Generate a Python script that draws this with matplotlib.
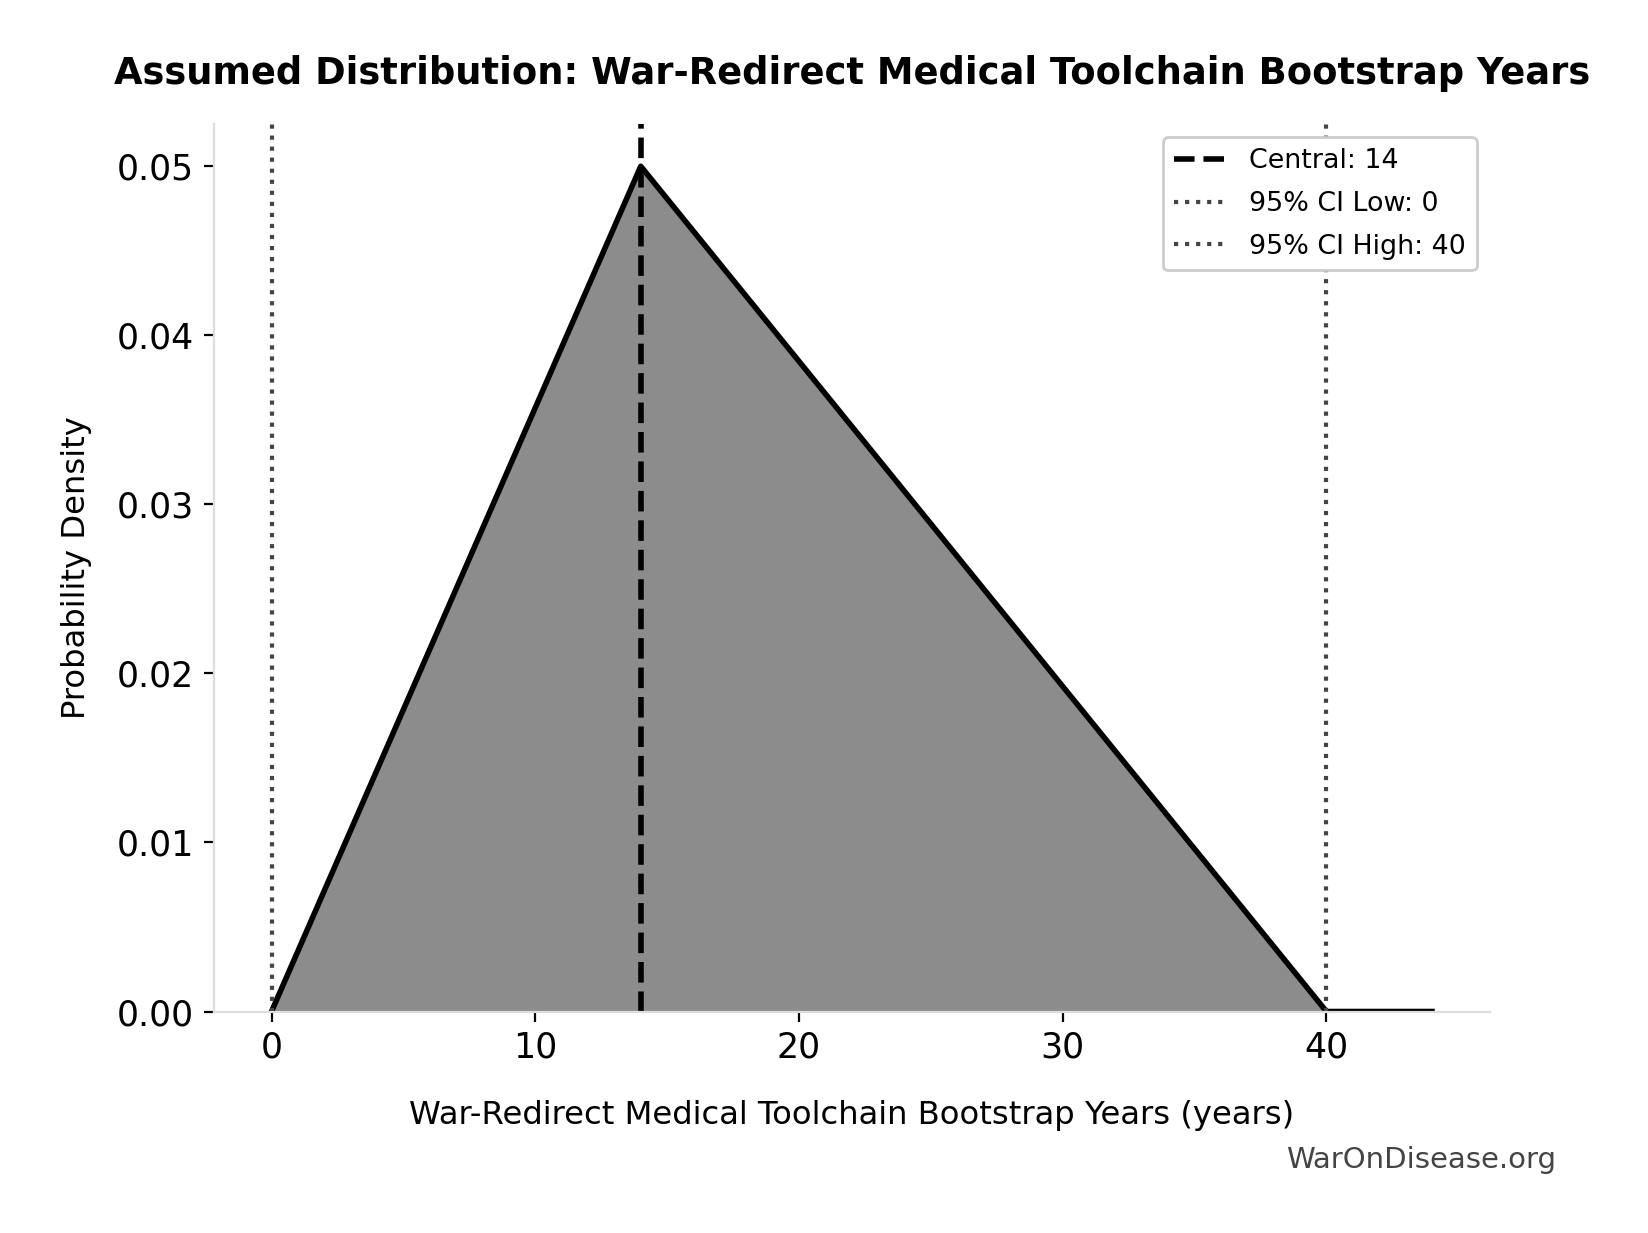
import matplotlib
matplotlib.use("Agg")
import matplotlib.pyplot as plt

# Data
dist_x = [0, 14, 40, 44]
dist_y = [0.0, 0.05, 0.0, 0.0]
central = 14
ci_low = 0
ci_high = 40
x_ticks = [0, 10, 20, 30, 40]
y_ticks = [0.00, 0.01, 0.02, 0.03, 0.04, 0.05]

W, H = 1648, 1233
fig = plt.figure(figsize=(W/200, H/200), dpi=200)
L, R, T, B = 213.5, 1490, 124, 1011.5
ax = fig.add_axes([L/W, 1 - B/H, (R-L)/W, (B-T)/H])

ax.fill_between(dist_x, dist_y, color="#8c8c8c", linewidth=0)
ax.plot(dist_x, dist_y, color="black", linewidth=2)
ax.axvline(central, color="black", linestyle="--", linewidth=2, label=f"Central: {central}")
ax.axvline(ci_low, color="#444444", linestyle=":", linewidth=1.5, label=f"95% CI Low: {ci_low}")
ax.axvline(ci_high, color="#444444", linestyle=":", linewidth=1.5, label=f"95% CI High: {ci_high}")

ax.set_ylim(0, 0.0525)
ax.set_xlim(-2.2, 46.2)
ax.set_xticks(x_ticks)
ax.set_yticks(y_ticks)
ax.set_yticklabels([f"{v:.2f}" for v in y_ticks])
ax.tick_params(labelsize=12.5)
for s in ["top", "right"]:
    ax.spines[s].set_visible(False)
for s in ["left", "bottom"]:
    ax.spines[s].set_color("#dddddd")

ax.set_xlabel("War-Redirect Medical Toolchain Bootstrap Years (years)", fontsize=11.6, labelpad=12.5)
ax.set_ylabel("Probability Density", fontsize=11.6, labelpad=9)
fig.text((L+R)/2/W, 1 - 73.6/H,
         "Assumed Distribution: War-Redirect Medical Toolchain Bootstrap Years",
         fontsize=13.3, fontweight="bold", ha="center", va="center")
leg = ax.legend(loc="upper right", fontsize=9.7, labelspacing=0.62, framealpha=1, edgecolor="#cccccc")

fig.text(1556/W, 1 - 1160/H, "WarOnDisease.org", ha="right", va="center",
         fontsize=10.5, color="#444444")

fig.savefig("out.png", dpi=200)
